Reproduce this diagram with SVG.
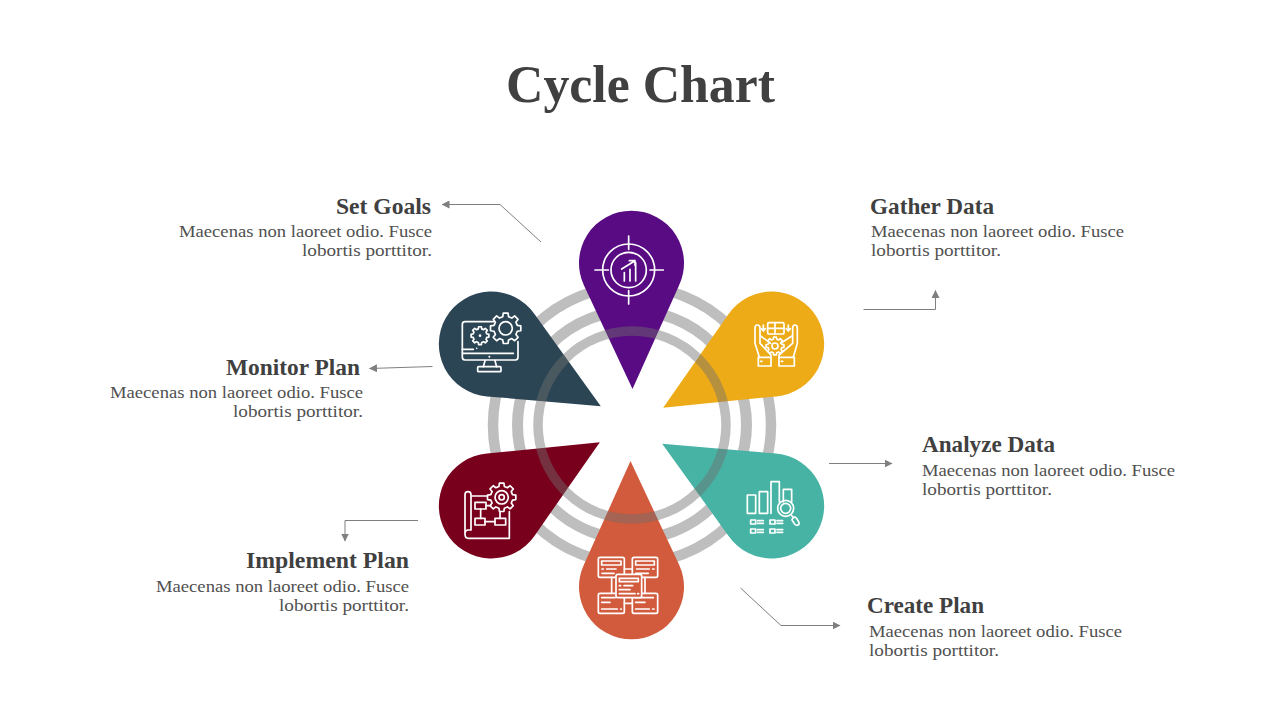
<svg xmlns="http://www.w3.org/2000/svg" xmlns:xlink="http://www.w3.org/1999/xlink" width="1280" height="720" viewBox="0 0 1280 720">
<style>
text{font-family:"Liberation Serif","DejaVu Serif",serif}
.title{font-size:52px;font-weight:700;fill:#404040}
.h{font-size:23.5px;font-weight:700;fill:#404040}
.b{font-size:17.5px;fill:#505050}
.ring{fill:none;stroke:#6f6f6f;stroke-opacity:.45}
.ic{fill:none;stroke:#fff;stroke-width:1.7;stroke-linecap:round;stroke-linejoin:round}
.ic *{vector-effect:non-scaling-stroke}
.d{fill:#fff;stroke:none}
.c{fill:none;stroke:#7f7f7f;stroke-width:1;marker-end:url(#arr)}
</style>
<defs>
<marker id="arr" viewBox="0 0 8 8" refX="7.5" refY="4" markerWidth="8" markerHeight="8" markerUnits="userSpaceOnUse" orient="auto"><path d="M0 0L8 4L0 8Z" fill="#7f7f7f"/></marker>
<path id="gear" vector-effect="non-scaling-stroke" d="M7.57-1.89L9.88-1.56V1.56L7.57 1.89L6.69 4.02L8.09 5.88L5.88 8.09L4.02 6.69L1.89 7.57L1.56 9.88H-1.56L-1.89 7.57L-4.02 6.69L-5.88 8.09L-8.09 5.88L-6.69 4.02L-7.57 1.89L-9.88 1.56V-1.56L-7.57-1.89L-6.69-4.02L-8.09-5.88L-5.88-8.09L-4.02-6.69L-1.89-7.57L-1.56-9.88H1.56L1.89-7.57L4.02-6.69L5.88-8.09L8.09-5.88L6.69-4.02Z"/>
</defs>
<rect width="1280" height="720" fill="#fff"/>
<text class="title" x="506" y="102" textLength="269" lengthAdjust="spacingAndGlyphs">Cycle Chart</text>

<g id="rings-back">
<circle class="ring" cx="632" cy="425" r="139" stroke-width="10.500"/>
<circle class="ring" cx="632" cy="425" r="114.500" stroke-width="11"/>
</g>

<g id="node-set-goals">
<path fill="#580B82" d="M632.500 389L584 285.500A52.500 52.500 0 1 1 679 285.500Z"/>
<g class="ic" transform="translate(570 200) scale(.3333)">
<circle cx="176" cy="210" r="78"/><circle cx="176" cy="210" r="53"/>
<path d="M75 210H115M240 210H280M176 108V148M176 272V312M163 243V218M180 243V208M197 243V188M155 207L195 182M178 182H195V196"/>
</g>
<text class="h" x="336" y="214" textLength="95" lengthAdjust="spacingAndGlyphs">Set Goals</text>
<text class="b" x="179" y="237" textLength="253" lengthAdjust="spacingAndGlyphs">Maecenas non laoreet odio. Fusce</text>
<text class="b" x="302" y="256" textLength="130" lengthAdjust="spacingAndGlyphs">lobortis porttitor.</text>
</g>

<g id="node-gather-data">
<path fill="#EDAB18" transform="rotate(60 631.500 425)" d="M632.500 389L584 285.500A52.500 52.500 0 1 1 679 285.500Z"/>
<g class="ic" transform="translate(730 300) scale(.3333)">
<rect x="113" y="68" width="49" height="34" rx="4"/>
<path d="M135 68V102M113 85H162M100 75V92M94 86L100 93L106 86M175 75V92M169 86L175 93L181 86"/>
<path d="M123 172V165L90 130V85Q90 75 82 75Q75 75 75 85V130L88 172M92 108L122 130"/>
<path d="M147 172V165L188 130V85Q188 75 195 75Q202 75 202 85V130L190 172M186 108L152 130"/>
<rect x="85" y="172" width="38" height="26"/><rect x="147" y="172" width="46" height="26"/>
<path d="M92 184H96M154 184H158"/>
<use xlink:href="#gear" href="#gear" transform="translate(135 138) scale(2.7)"/>
<circle cx="135" cy="138" r="9"/>
</g>
<text class="h" x="870" y="214" textLength="124" lengthAdjust="spacingAndGlyphs">Gather Data</text>
<text class="b" x="871" y="237" textLength="253" lengthAdjust="spacingAndGlyphs">Maecenas non laoreet odio. Fusce</text>
<text class="b" x="871" y="256" textLength="130" lengthAdjust="spacingAndGlyphs">lobortis porttitor.</text>
</g>

<g id="node-analyze-data">
<path fill="#47B3A4" transform="rotate(120 631.500 425)" d="M632.500 389L584 285.500A52.500 52.500 0 1 1 679 285.500Z"/>
<g class="ic" transform="translate(735 470) scale(.3333)">
<rect x="37" y="75" width="25" height="55"/><rect x="73" y="65" width="25" height="65"/>
<path d="M108 130V35H133V95M145 95V58H170V95"/>
<circle cx="152" cy="115" r="24"/><circle cx="152" cy="115" r="15"/>
<path d="M168 135L176 143M176 143Q181 139 186 147L192 157Q194 165 186 166Q181 166 178 161L171 150Q170 146 176 143Z"/>
<rect x="47" y="150" width="15" height="12"/><rect x="105" y="150" width="15" height="12"/>
<rect x="47" y="177" width="15" height="12"/><rect x="105" y="177" width="15" height="12"/>
<path d="M68 152H85M68 160H85M126 152H143M126 160H143M68 179H85M68 187H85M126 179H143M126 187H143"/>
</g>
<text class="h" x="922" y="452" textLength="133" lengthAdjust="spacingAndGlyphs">Analyze Data</text>
<text class="b" x="922" y="476" textLength="253" lengthAdjust="spacingAndGlyphs">Maecenas non laoreet odio. Fusce</text>
<text class="b" x="922" y="495" textLength="130" lengthAdjust="spacingAndGlyphs">lobortis porttitor.</text>
</g>

<g id="node-create-plan">
<path fill="#D15B3C" transform="rotate(180 631.500 425)" d="M632.500 389L584 285.500A52.500 52.500 0 1 1 679 285.500Z"/>
<g class="ic" transform="translate(590 545) scale(.3333)">
<rect x="25" y="37" width="78" height="60" rx="5"/><rect x="127" y="37" width="76" height="60" rx="5"/>
<rect x="25" y="145" width="78" height="60" rx="5"/><rect x="127" y="145" width="76" height="60" rx="5"/>
<path d="M103 72H127M103 175H127M65 97V145M165 97V145"/>
<path d="M35 48H93V60H35ZM36 72H40M50 72H78M36 85H72M137 48H193V60H137ZM140 72H178M188 72H192M137 85H175M35 158H75M35 172H60M35 192H82M92 192H94M137 158H190M137 172H165M137 192H178M188 192H192"/>
<rect x="78" y="88" width="77" height="70" rx="5" fill="#D15B3C"/>
<path d="M88 100H145V110H88ZM88 122H92M102 122H128M88 134H120M88 146H135M143 146H146"/>
</g>
<text class="h" x="867" y="613" textLength="117" lengthAdjust="spacingAndGlyphs">Create Plan</text>
<text class="b" x="869" y="637" textLength="253" lengthAdjust="spacingAndGlyphs">Maecenas non laoreet odio. Fusce</text>
<text class="b" x="869" y="656" textLength="130" lengthAdjust="spacingAndGlyphs">lobortis porttitor.</text>
</g>

<g id="node-implement-plan">
<path fill="#79001C" transform="rotate(240 631.500 425)" d="M632.500 389L584 285.500A52.500 52.500 0 1 1 679 285.500Z"/>
<g class="ic" transform="translate(450 470) scale(.3333)">
<path d="M45 192V74Q45 65 54 65Q63 65 63 74V180H55Q45 180 45 192Q45 205 55 205H178V125M63 78H112"/>
<rect x="75" y="97" width="33" height="20"/><rect x="75" y="145" width="30" height="20"/><rect x="135" y="145" width="32" height="20"/>
<path d="M92 117V145M105 155H135M150 145V125M108 107H122"/>
<use xlink:href="#gear" href="#gear" transform="translate(155 82) scale(4.3)"/>
<circle cx="155" cy="82" r="20"/><circle cx="155" cy="82" r="8"/>
</g>
<text class="h" x="246" y="568" textLength="163" lengthAdjust="spacingAndGlyphs">Implement Plan</text>
<text class="b" x="156" y="592" textLength="253" lengthAdjust="spacingAndGlyphs">Maecenas non laoreet odio. Fusce</text>
<text class="b" x="279" y="611" textLength="130" lengthAdjust="spacingAndGlyphs">lobortis porttitor.</text>
</g>

<g id="node-monitor-plan">
<path fill="#2C4555" transform="rotate(300 631.500 425)" d="M632.500 389L584 285.500A52.500 52.500 0 1 1 679 285.500Z"/>
<g class="ic" transform="translate(440 300) scale(.3333)">
<path d="M160 65H75Q67 65 67 73V172Q67 180 75 180H226Q234 180 234 172V125"/>
<path d="M67 148H100M67 160H220M135 182L130 200M165 182L170 200"/>
<rect x="113" y="200" width="70" height="15" rx="3"/>
<use xlink:href="#gear" href="#gear" transform="translate(120 107) scale(2.7)"/>
<use xlink:href="#gear" href="#gear" transform="translate(197 85) scale(4.6)"/>
<circle cx="197" cy="85" r="20"/>
<circle class="d" cx="120" cy="107" r="4"/><circle class="d" cx="148" cy="170" r="3"/><circle class="d" cx="110" cy="145" r="2.500"/>
</g>
<text class="h" x="226" y="375" textLength="134" lengthAdjust="spacingAndGlyphs">Monitor Plan</text>
<text class="b" x="110" y="398" textLength="253" lengthAdjust="spacingAndGlyphs">Maecenas non laoreet odio. Fusce</text>
<text class="b" x="233" y="417" textLength="130" lengthAdjust="spacingAndGlyphs">lobortis porttitor.</text>
</g>

<g id="ring-front"><circle class="ring" cx="632" cy="425" r="94" stroke-width="9.500"/></g>

<g id="connectors">
<path class="c" d="M541 242L500 204.500H442"/>
<path class="c" d="M863.500 309.500H935.500V290.500"/>
<path class="c" d="M829 463.500H892"/>
<path class="c" d="M740.500 588L781 625.500H840"/>
<path class="c" d="M418 520.500H345V541"/>
<path class="c" d="M432.500 366.500L369.500 368.500"/>
</g>
</svg>
